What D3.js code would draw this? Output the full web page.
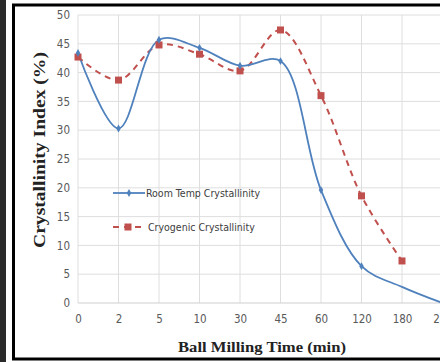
<!DOCTYPE html>
<html>
<head>
<meta charset="utf-8">
<script src="https://d3js.org/d3.v7.min.js"></script>
<style>
  body { margin: 0; background: #fff; }
  svg { display: block; }
</style>
</head>
<body>
<main></main>
<script>
const times = ["0", "2", "5", "10", "30", "45", "60", "120", "180", "240"];
const roomTemp = [43.4, 30.3, 45.7, 44.3, 41.2, 42.0, 19.6, 6.4, 2.8, 0];
const cryogenic = [42.7, 38.7, 44.8, 43.2, 40.3, 47.4, 36.0, 18.6, 7.3];
const yTicks = [0, 5, 10, 15, 20, 25, 30, 35, 40, 45, 50];
const seriesNames = ["Room Temp  Crystallinity", "Cryogenic Crystallinity"];

const size = { width: 440, height: 362 };
const plot = { left: 78, right: 442.5, top: 15, bottom: 303 };
const sansFont = "'DejaVu Sans Condensed', 'Liberation Sans Narrow', 'Liberation Sans', sans-serif";
const serifFont = "'Liberation Serif', 'DejaVu Serif', serif";

const svg = d3.select("main")
    .append("svg")
    .attr("width", size.width)
    .attr("height", size.height);

// dark strip from the neighbouring picture and the black frame
svg.append("rect").attr("x", 0).attr("y", 0).attr("width", 6).attr("height", size.height).attr("fill", "#2a2a2a");
svg.append("rect")
    .attr("x", 13.5).attr("y", 5)
    .attr("width", 440).attr("height", 354)
    .attr("fill", "none").attr("stroke", "#000").attr("stroke-width", 3);

const x = d3.scalePoint().domain(times).range([plot.left, plot.right]);
const y = d3.scaleLinear().domain([0, 50]).range([plot.bottom, plot.top]);

// grid
svg.append("g")
    .selectAll("line")
    .data(yTicks.slice(1))
    .join("line")
    .attr("x1", plot.left).attr("x2", size.width)
    .attr("y1", d => y(d)).attr("y2", d => y(d))
    .attr("stroke", "#dedede").attr("stroke-width", 1);

svg.append("g")
    .selectAll("line")
    .data(times)
    .join("line")
    .attr("x1", d => x(d)).attr("x2", d => x(d))
    .attr("y1", plot.top).attr("y2", plot.bottom)
    .attr("stroke", "#dedede").attr("stroke-width", 1);

svg.append("line")
    .attr("x1", plot.left).attr("x2", size.width)
    .attr("y1", plot.bottom).attr("y2", plot.bottom)
    .attr("stroke", "#cfcfcf").attr("stroke-width", 1.2);

// axes (labels only, Excel style)
const yAxis = svg.append("g")
    .attr("transform", `translate(${plot.left - 8},0)`)
    .call(d3.axisLeft(y).tickValues(yTicks).tickSize(0).tickPadding(0));
yAxis.select(".domain").remove();
yAxis.selectAll("text")
    .attr("fill", "#595959")
    .style("font-family", sansFont)
    .style("font-size", "11.5px");

const xAxis = svg.append("g")
    .attr("transform", `translate(0,${plot.bottom + 12})`)
    .call(d3.axisBottom(x).tickSize(0).tickPadding(0));
xAxis.select(".domain").remove();
xAxis.selectAll("text")
    .attr("fill", "#595959")
    .style("font-family", sansFont)
    .style("font-size", "11.5px");

// titles
svg.append("text")
    .attr("x", 262).attr("y", 352)
    .attr("text-anchor", "middle")
    .attr("textLength", 168).attr("lengthAdjust", "spacingAndGlyphs")
    .style("font-family", serifFont)
    .style("font-weight", "bold")
    .style("font-size", "15px")
    .attr("fill", "#222")
    .text("Ball Milling Time (min)");

svg.append("text")
    .attr("transform", "translate(45,150) rotate(-90)")
    .attr("text-anchor", "middle")
    .attr("textLength", 196).attr("lengthAdjust", "spacingAndGlyphs")
    .style("font-family", serifFont)
    .style("font-weight", "bold")
    .style("font-size", "16px")
    .attr("fill", "#222")
    .text("Crystallinity Index (%)");

// lines
const line = d3.line()
    .x((d, i) => x(times[i]))
    .y(d => y(d))
    .curve(d3.curveCatmullRom.alpha(0.5));

svg.append("path")
    .datum(cryogenic)
    .attr("d", line)
    .attr("fill", "none")
    .attr("stroke", "#c0504d")
    .attr("stroke-width", 2)
    .attr("stroke-dasharray", "6,5");

svg.append("path")
    .datum(roomTemp)
    .attr("d", line)
    .attr("fill", "none")
    .attr("stroke", "#4f81bd")
    .attr("stroke-width", 1.8);

svg.append("g")
    .selectAll("rect")
    .data(cryogenic)
    .join("rect")
    .attr("x", (d, i) => x(times[i]) - 3.5)
    .attr("y", d => y(d) - 3.5)
    .attr("width", 7).attr("height", 7)
    .attr("fill", "#c0504d");

svg.append("g")
    .selectAll("path")
    .data(roomTemp.slice(0, 8))
    .join("path")
    .attr("d", d3.symbol(d3.symbolDiamond, 18))
    .attr("transform", (d, i) => `translate(${x(times[i])},${y(d)})`)
    .attr("fill", "#4f81bd");

// legend
const legend = svg.append("g");
legend.append("line")
    .attr("x1", 113).attr("x2", 145).attr("y1", 193).attr("y2", 193)
    .attr("stroke", "#4f81bd").attr("stroke-width", 1.8);
legend.append("path")
    .attr("d", d3.symbol(d3.symbolDiamond, 18))
    .attr("transform", "translate(129,193)")
    .attr("fill", "#4f81bd");
legend.append("line")
    .attr("x1", 113).attr("x2", 143).attr("y1", 227).attr("y2", 227)
    .attr("stroke", "#c0504d").attr("stroke-width", 2)
    .attr("stroke-dasharray", "6,5");
legend.append("rect")
    .attr("x", 124.5).attr("y", 223.5).attr("width", 7).attr("height", 7)
    .attr("fill", "#c0504d");
legend.selectAll("text")
    .data(seriesNames)
    .join("text")
    .attr("x", (d, i) => i === 0 ? 146 : 148)
    .attr("y", (d, i) => i === 0 ? 197 : 231)
    .style("font-family", sansFont)
    .style("font-size", "10.5px")
    .attr("fill", "#404040")
    .text(d => d);
</script>
</body>
</html>
